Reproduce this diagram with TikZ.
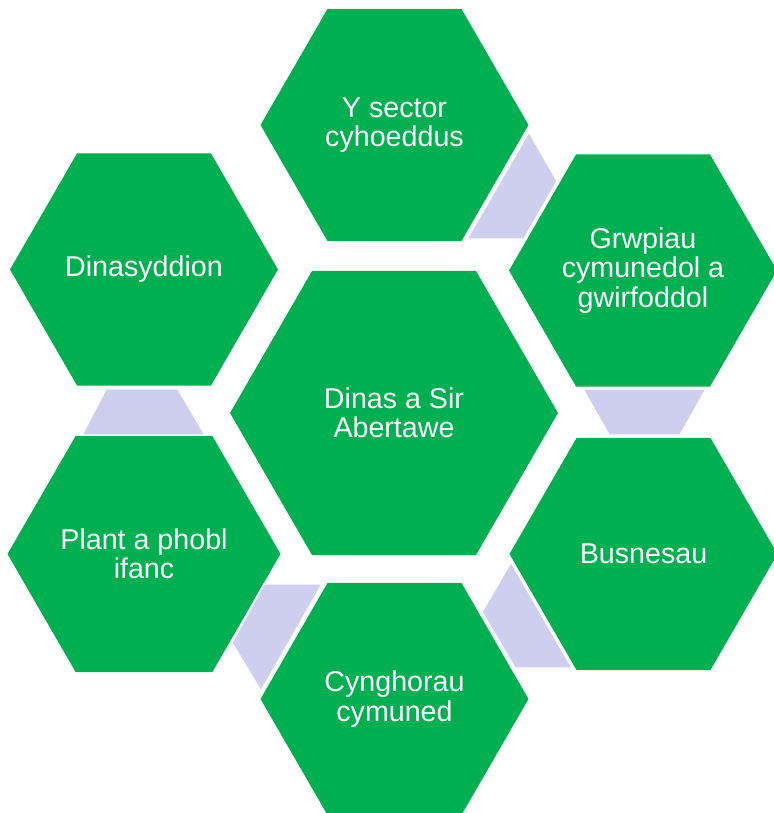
\documentclass[tikz,border=0pt]{standalone}
\usepackage{fontspec}
\setmainfont{Liberation Sans}
\usepackage{tikz}
\definecolor{hexgreen}{RGB}{0,176,80}
\definecolor{lavender}{RGB}{206,206,238}
\usetikzlibrary{shapes}

\begin{document}
\begin{tikzpicture}[x=0.02cm, y=-0.02cm]
        \tikzset{every node/.style={regular polygon, regular polygon sides=6,
                        fill=hexgreen, text=white, align=center, inner sep=0pt,
                        font=\fontsize{16.3}{16.8}\selectfont},
                link/.style={fill=lavender, draw=white, line width=0.8pt}}

        \useasboundingbox (0,0) rectangle (773,813);

        \node[minimum size=6.56cm] (1) at (394, 413) {Dinas a Sir\\Abertawe};
        \node[minimum size=5.36cm] (2) at (394.5, 125) {Y sector\\cyhoeddus};
        \node[minimum size=5.36cm] (3) at (643, 270.5) {Grwpiau\\cymunedol a\\gwirfoddol};
        \node[minimum size=5.36cm] (4) at (643.5, 554) {Busnesau};
        \node[minimum size=5.36cm] (5) at (394.5, 699) {Cynghorau\\cymuned};
        \node[minimum size=5.36cm] (6) at (144, 554) {Plant a phobl\\ifanc};
        \node[minimum size=5.36cm] (7) at (144, 269.5) {Dinasyddion};

        \path[link] (529,132) -- (557,181) -- (524,239) -- (467,239) -- cycle;
        \path[link] (583,389) -- (706,389) -- (680,435) -- (609,435) -- cycle;
        \path[link] (511,562) -- (572,668) -- (515,668) -- (482,612) -- cycle;
        \path[link] (264,584) -- (322,584) -- (261,691) -- (232,643) -- cycle;
        \path[link] (106,389) -- (178,389) -- (205,435) -- (82,435) -- cycle;

    \end{tikzpicture}
\end{document}
